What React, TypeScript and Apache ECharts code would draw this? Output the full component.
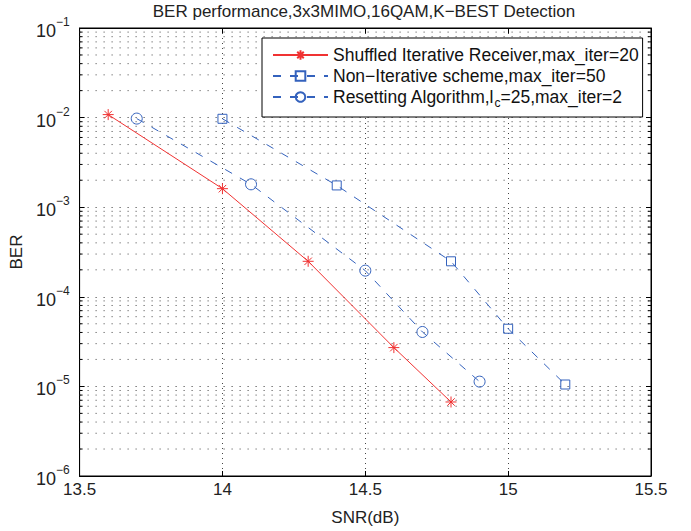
import React, { useEffect, useRef } from "react";
import * as echarts from "echarts";

const titleText = "BER performance,3x3MIMO,16QAM,K\u2212BEST Detection";
const xTicks = [13.5, 14, 14.5, 15, 15.5];
const yDecades = [-6, -5, -4, -3, -2, -1];

const shuffledName = "Shuffled Iterative Receiver,max_iter=20";
const shuffledSnr = [13.6, 14.0, 14.3, 14.6, 14.8];
const shuffledBer = [1.08e-2, 1.61e-3, 2.49e-4, 2.71e-5, 6.7e-6];

const nonIterName = "Non\u2212Iterative scheme,max_iter=50";
const nonIterSnr = [14.0, 14.4, 14.8, 15.0, 15.2];
const nonIterBer = [9.7e-3, 1.75e-3, 2.49e-4, 4.4e-5, 1.05e-5];

const resetName = "Resetting Algorithm,l_c=25,max_iter=2";
const resetSnr = [13.7, 14.1, 14.5, 14.7, 14.9];
const resetBer = [9.75e-3, 1.8e-3, 1.96e-4, 4.05e-5, 1.13e-5];

const FONT = "Liberation Sans, Arial, Helvetica, sans-serif";
const RED = "#f03232";
const BLUE = "#3462bd";

const pairs = (xs: number[], ys: number[]) => xs.map((x, i) => [x, ys[i]]);

export default function App() {
  const ref = useRef<HTMLDivElement>(null);
  useEffect(() => {
    document.body.style.margin = "0";
    const chart = echarts.init(ref.current!, null, { renderer: "svg" });

    const minorVals: number[] = [];
    for (let d = yDecades[0]; d < yDecades[yDecades.length - 1]; d++) {
      for (let k = 2; k <= 9; k++) minorVals.push(k * Math.pow(10, d));
    }
    const xMin = xTicks[0];
    const xMax = xTicks[xTicks.length - 1];

    const starPath = "path://M5,0L5,10M0,5L10,5M1.6,1.6L8.4,8.4M1.6,8.4L8.4,1.6";

    const yLabel = (v: number) => {
      const e = Math.round(Math.log10(v));
      return "{b|10}{s|\u2212" + Math.abs(e) + "}";
    };

    chart.setOption({
      animation: false,
      backgroundColor: "#fff",
      grid: {
        left: 77,
        right: 40,
        top: 28,
        bottom: 53,
        show: true,
        borderColor: "#000",
        borderWidth: 1,
        backgroundColor: "transparent",
      },
      graphic: [
        {
          type: "text",
          x: 364,
          y: 11,
          style: {
            text: titleText,
            align: "center",
            verticalAlign: "middle",
            font: "17px " + FONT,
            fill: "#222",
          },
        },
      ],
      legend: {
        orient: "vertical",
        left: 262,
        top: 38,
        padding: [8, 4, 8, 10],
        itemGap: 3,
        itemWidth: 55,
        itemHeight: 12,
        backgroundColor: "#fff",
        borderColor: "#000",
        borderWidth: 1,
        borderRadius: 0,
        z: 10,
        data: [shuffledName, nonIterName, resetName],
        formatter: (name: string) => {
          if (name === resetName) {
            return "{n|Resetting Algorithm,l}{sub|c}{n|=25,max_iter=2}";
          }
          return "{n|" + name + "}";
        },
        textStyle: {
          color: "#111",
          fontFamily: FONT,
          fontSize: 17.5,
          rich: {
            n: { fontSize: 17.5, fontFamily: FONT, color: "#111", lineHeight: 24, verticalAlign: "middle" },
            sub: {
              fontSize: 12,
              fontFamily: FONT,
              color: "#111",
              lineHeight: 10,
              verticalAlign: "bottom",
            },
          },
        },
      },
      xAxis: [
        {
          type: "value",
          min: 13.5,
          max: 15.5,
          interval: 0.5,
          position: "bottom",
          axisLine: { show: true, lineStyle: { color: "#000", width: 1 } },
          axisTick: { show: true, inside: true, length: 5, lineStyle: { color: "#000" } },
          axisLabel: {
            margin: 5,
            fontSize: 17,
            fontFamily: FONT,
            color: "#222",
            formatter: (v: number) => String(v),
          },
          splitLine: { show: true, lineStyle: { type: [1, 4], color: "#444", width: 1 } },
          name: "SNR(dB)",
          nameLocation: "middle",
          nameGap: 33,
          nameTextStyle: { fontSize: 17, fontFamily: FONT, color: "#222" },
        },
        {
          type: "value",
          min: 13.5,
          max: 15.5,
          interval: 0.5,
          position: "top",
          axisLine: { show: true, lineStyle: { color: "#000" } },
          axisTick: { show: true, inside: true, length: 5, lineStyle: { color: "#000" } },
          axisLabel: { show: false },
          splitLine: { show: false },
        },
      ],
      yAxis: [
        {
          type: "log",
          logBase: 10,
          min: 1e-6,
          max: 1e-1,
          position: "left",
          axisLine: { show: true, lineStyle: { color: "#000" } },
          axisTick: { show: true, inside: true, length: 5, lineStyle: { color: "#000" } },
          axisLabel: {
            margin: 10,
            formatter: yLabel,
            rich: {
              b: { fontSize: 18, fontFamily: FONT, color: "#222", lineHeight: 24, verticalAlign: "bottom" },
              s: { fontSize: 12, fontFamily: FONT, color: "#222", lineHeight: 12, verticalAlign: "top" },
            },
          },
          splitLine: { show: true, lineStyle: { type: [1, 7], color: "#333", width: 1 } },
          minorTick: { show: false },
          minorSplitLine: { show: false },
          name: "BER",
          nameLocation: "middle",
          nameGap: 44,
          nameTextStyle: { fontSize: 17, fontFamily: FONT, color: "#222" },
        },
        {
          type: "log",
          logBase: 10,
          min: 1e-6,
          max: 1e-1,
          position: "right",
          axisLine: { show: true, lineStyle: { color: "#000" } },
          axisTick: { show: true, inside: true, length: 5, lineStyle: { color: "#000" } },
          axisLabel: { show: false },
          splitLine: { show: false },
        },
      ],
      series: [
        {
          name: "minor-grid",
          type: "custom",
          silent: true,
          z: 1,
          data: minorVals.map((v) => [xMin, v]),
          encode: { x: 0, y: 1 },
          renderItem: (params: any, api: any) => {
            const v = api.value(1);
            const p1 = api.coord([xMin, v]);
            const p2 = api.coord([xMax, v]);
            return {
              type: "group",
              children: [
                {
                  type: "line",
                  shape: { x1: p1[0], y1: p1[1], x2: p2[0], y2: p2[1] },
                  style: { stroke: "#444", lineWidth: 1, lineDash: [1, 7] },
                },
                {
                  type: "line",
                  shape: { x1: p1[0], y1: p1[1], x2: p1[0] + 3, y2: p1[1] },
                  style: { stroke: "#000", lineWidth: 1 },
                },
                {
                  type: "line",
                  shape: { x1: p2[0] - 3, y1: p2[1], x2: p2[0], y2: p2[1] },
                  style: { stroke: "#000", lineWidth: 1 },
                },
              ],
            };
          },
        },
        {
          name: shuffledName,
          type: "line",
          data: pairs(shuffledSnr, shuffledBer),
          symbol: starPath,
          symbolSize: 11,
          z: 3,
          lineStyle: { color: RED, width: 1, type: "solid" },
          itemStyle: { color: "none", borderColor: RED, borderWidth: 1 },
        },
        {
          name: nonIterName,
          type: "line",
          data: pairs(nonIterSnr, nonIterBer),
          symbol: "rect",
          symbolSize: 9,
          z: 3,
          lineStyle: { color: BLUE, width: 1, type: [8, 9] },
          itemStyle: { color: "none", borderColor: BLUE, borderWidth: 1 },
        },
        {
          name: resetName,
          type: "line",
          data: pairs(resetSnr, resetBer),
          symbol: "circle",
          symbolSize: 11,
          z: 3,
          lineStyle: { color: BLUE, width: 1, type: [8, 9] },
          itemStyle: { color: "none", borderColor: BLUE, borderWidth: 1 },
        },
      ],
    });
    return () => chart.dispose();
  }, []);
  return <div ref={ref} style={{ width: 691, height: 531 }} />;
}
